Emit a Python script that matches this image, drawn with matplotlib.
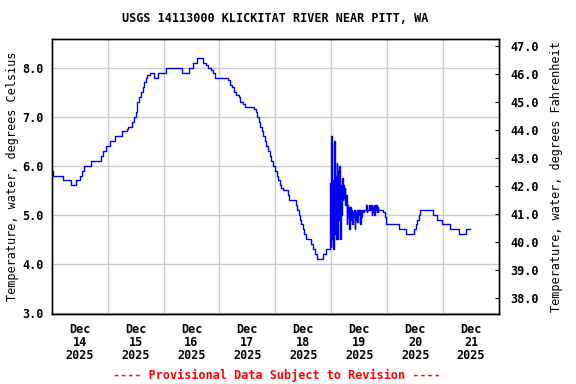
import matplotlib
matplotlib.use("Agg")
import matplotlib.pyplot as plt

# Water temperature (deg C), hours since Dec 14 2025 00:00, value held until next time
hours = [0.0, 0.7, 5.0, 8.2, 10.4, 12.2, 13.0, 14.0, 16.7, 21.0, 22.0, 23.3, 25.0, 27.3,
         30.2, 32.2, 32.9, 34.5, 35.3, 36.0, 36.4, 36.8, 37.5, 38.3, 39.2, 39.8, 40.5,
         41.1, 42.0, 44.0, 45.8, 49.1, 55.8, 59.1, 60.8, 62.3, 64.8, 66.2, 67.1, 68.4,
         69.3, 70.1, 75.8, 76.6, 77.4, 78.3, 79.3, 80.2, 80.8, 82.1, 83.0, 86.9, 87.5,
         88.1, 88.8, 89.4, 90.3, 90.9, 91.6, 92.2, 92.9, 93.5, 94.2, 95.0, 95.9, 96.5,
         97.2, 97.8, 98.4, 99.3, 101.3, 101.9, 104.9, 105.5, 106.0, 106.6, 107.2, 107.7,
         108.3, 109.2, 111.3, 112.2, 113.0, 114.0, 116.6, 117.6, 119.3,
         119.5, 119.8, 120.0, 120.3, 120.6, 120.9, 121.2, 121.5, 121.8, 122.1, 122.4,
         122.6, 122.9, 123.2, 123.5, 123.8, 124.1, 124.3, 124.6, 124.9, 125.2, 125.5,
         125.8, 126.1, 126.4, 126.7, 126.9, 127.2, 127.5, 127.8, 128.1, 128.4, 128.6,
         128.9, 129.2, 129.5, 129.8, 130.1, 130.4, 130.7, 131.0, 131.2, 131.5, 131.8,
         132.1, 132.4, 132.7, 132.9, 133.2, 133.8, 134.1, 134.9, 135.2, 135.5, 136.2,
         136.5, 137.1, 137.4, 137.6, 137.9, 138.2, 138.5, 138.8, 139.1, 139.4, 139.7,
         140.0, 140.2, 142.2, 142.9, 143.4, 149.2, 152.0, 155.5, 156.2, 156.8, 157.5,
         158.1, 163.8, 165.2, 167.4, 171.0, 175.0, 177.7, 179.6]
temp_c = [5.9, 5.8, 5.7, 5.6, 5.7, 5.8, 5.9, 6.0, 6.1, 6.2, 6.3, 6.4, 6.5, 6.6,
          6.7, 6.75, 6.8, 6.9, 7.0, 7.1, 7.2, 7.3, 7.4, 7.5, 7.6, 7.7, 7.8,
          7.85, 7.9, 7.8, 7.9, 8.0, 7.9, 8.0, 8.1, 8.2, 8.1, 8.05, 8.0, 7.95,
          7.9, 7.8, 7.75, 7.65, 7.6, 7.5, 7.45, 7.4, 7.3, 7.25, 7.2, 7.15, 7.1,
          7.0, 6.9, 6.8, 6.7, 6.6, 6.5, 6.4, 6.3, 6.2, 6.1, 6.0, 5.9, 5.8,
          5.7, 5.6, 5.55, 5.5, 5.4, 5.3, 5.2, 5.1, 5.0, 4.9, 4.8, 4.7,
          4.6, 4.5, 4.4, 4.3, 4.2, 4.1, 4.2, 4.3, 4.4,
          5.65, 4.35, 6.6, 4.5, 5.7, 4.3, 6.5, 4.6, 5.8, 4.5, 6.05,
          4.5, 5.9, 4.9, 6.0, 4.5, 5.6, 5.0, 5.75, 5.3, 5.6, 5.35,
          5.55, 5.2, 5.4, 4.8, 5.2, 4.95, 5.15, 4.7, 5.15, 4.9, 5.1,
          4.8, 5.05, 4.95, 5.1, 4.7, 5.05, 4.9, 5.1, 4.85, 5.1, 5.0,
          5.1, 4.8, 5.1, 4.95, 5.1, 5.05, 5.1, 5.2, 5.05, 5.1, 5.2,
          5.1, 5.2, 5.0, 5.15, 5.05, 5.2, 5.0, 5.2, 5.1, 5.2, 5.05,
          5.15, 5.1, 5.05, 4.95, 4.8, 4.7, 4.6, 4.7, 4.8, 4.9, 5.0,
          5.1, 5.0, 4.9, 4.8, 4.7, 4.6, 4.7, 4.7]

day_labels = ["Dec\n14\n2025", "Dec\n15\n2025", "Dec\n16\n2025", "Dec\n17\n2025",
              "Dec\n18\n2025", "Dec\n19\n2025", "Dec\n20\n2025", "Dec\n21\n2025"]
c_ticks = [3, 4, 5, 6, 7, 8]
f_ticks = [38, 39, 40, 41, 42, 43, 44, 45, 46, 47]

plt.rcParams['font.family'] = 'DejaVu Sans Mono'
plt.rcParams['font.weight'] = 'bold'
plt.rcParams['font.size'] = 8.5

fig = plt.figure(figsize=(5.76, 3.84), dpi=100)
ax = fig.add_axes([51.7 / 576, 1 - 314.3 / 384, (499 - 51.7) / 576, 275 / 384])

ax.plot(hours, temp_c, color='#0000ff', linewidth=1.0, drawstyle='steps-post')

ax.set_xlim(0, 192)
ax.set_ylim(2.967, 8.58)
ax.set_xticks([12 + 24 * i for i in range(len(day_labels))], day_labels)
ax.set_xticks([24 * i for i in range(1, 8)], minor=True)
for lbl in ax.get_xticklabels():
    lbl.set_linespacing(1.0)
ax.set_yticks(c_ticks, [f"{v:.1f}" for v in c_ticks])
ax.tick_params(axis='x', which='both', length=0, pad=6)
ax.tick_params(axis='y', length=0, pad=6)
ax.grid(True, which='minor', axis='x', color='#cccccc', linewidth=1)
ax.grid(True, which='major', axis='y', color='#cccccc', linewidth=1)
ax.set_axisbelow(True)
ax.set_ylabel("Temperature, water, degrees Celsius", labelpad=2)

ax2 = ax.twinx()
ax2.set_ylim(37.42, 47.24)
ax2.set_yticks(f_ticks, [f"{v:.1f}" for v in f_ticks])
ax2.tick_params(axis='y', direction='in', length=3, pad=8)
ax2.set_ylabel("Temperature, water, degrees Fahrenheit", labelpad=8)

for a in (ax, ax2):
    for s in a.spines.values():
        s.set_linewidth(1)

fig.text(275 / 576, 1 - 19 / 384, "USGS 14113000 KLICKITAT RIVER NEAR PITT, WA",
         ha='center', va='center')
fig.text(277 / 576, 1 - 375 / 384, "---- Provisional Data Subject to Revision ----",
         ha='center', va='center', color='#ff0000')

fig.savefig("out.png", dpi=100)
